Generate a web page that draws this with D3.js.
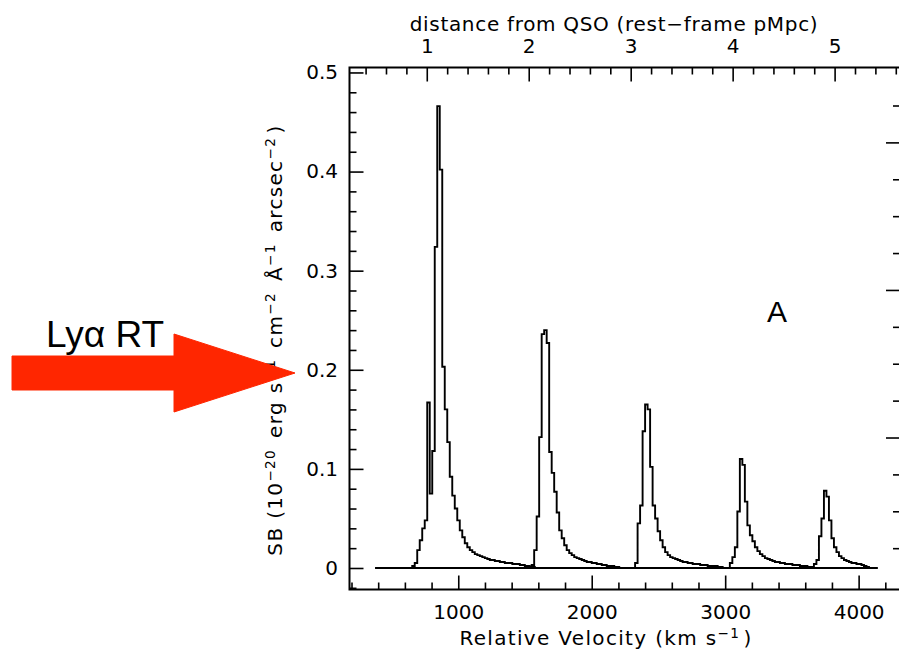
<!DOCTYPE html>
<html>
<head>
<meta charset="utf-8">
<script src="https://cdn.jsdelivr.net/npm/d3@7/dist/d3.min.js"></script>
<style>
  html, body { margin: 0; padding: 0; background: #ffffff; }
  svg { display: block; }
</style>
</head>
<body>
<script>
// ---------------- DATA ----------------
const binWidth = 18.75;                 // km/s per spectral bin
const baselineRange = [380, 4140];      // velocity range covered by each spectrum
const peakStarts = [655, 1550, 2325, 3035, 3665];

const peak1 = [0.002, 0.005, 0.018, 0.028, 0.040, 0.048, 0.167, 0.075, 0.118, 0.324,
               0.466, 0.402, 0.203, 0.160, 0.127, 0.092, 0.073, 0.060, 0.048, 0.038,
               0.031, 0.025, 0.021, 0.018, 0.016, 0.014, 0.013, 0.012, 0.011, 0.010,
               0.009, 0.008, 0.008, 0.007, 0.007, 0.006, 0.006, 0.005, 0.005, 0.005,
               0.004, 0.004, 0.004, 0.003, 0.003, 0.002, 0.002, 0.001, 0.001];
const peak2 = [0.003, 0.018, 0.052, 0.132, 0.236, 0.240, 0.227, 0.117, 0.096, 0.077,
               0.056, 0.038, 0.030, 0.023, 0.018, 0.015, 0.013, 0.011, 0.010, 0.009,
               0.008, 0.007, 0.006, 0.006, 0.005, 0.005, 0.004, 0.004, 0.003, 0.003,
               0.002, 0.002, 0.002, 0.001, 0.001];
const peak3 = [0.005, 0.045, 0.063, 0.138, 0.165, 0.160, 0.102, 0.063, 0.050, 0.037,
               0.028, 0.021, 0.016, 0.013, 0.011, 0.010, 0.009, 0.008, 0.007, 0.006,
               0.006, 0.005, 0.005, 0.004, 0.004, 0.004, 0.003, 0.003, 0.003, 0.002,
               0.002, 0.002, 0.002, 0.001, 0.001];
const peak4 = [0.005, 0.011, 0.021, 0.057, 0.110, 0.104, 0.067, 0.043, 0.033, 0.027,
               0.021, 0.017, 0.014, 0.012, 0.010, 0.009, 0.008, 0.007, 0.006, 0.006,
               0.005, 0.005, 0.004, 0.004, 0.004, 0.003, 0.003, 0.003, 0.002, 0.002,
               0.002, 0.001, 0.001];
const peak5 = [0.004, 0.008, 0.032, 0.050, 0.078, 0.072, 0.048, 0.030, 0.021, 0.016,
               0.012, 0.010, 0.008, 0.007, 0.006, 0.005, 0.005, 0.004, 0.004, 0.003,
               0.002, 0.001];
const peaks = [peak1, peak2, peak3, peak4, peak5];

const velocityTicks = [1000, 2000, 3000, 4000];
const sbTicks = [0, 0.1, 0.2, 0.3, 0.4, 0.5];
const sbTickLabels = ["0", "0.1", "0.2", "0.3", "0.4", "0.5"];
const distanceTicks = [1, 2, 3, 4, 5];
const rightMajorTicks = [3, 7, 11];
const kmsPerMpc = 764;                  // velocity -> distance conversion of top axis

// ---------------- LAYOUT ----------------
const W = 899, H = 651;
const L = 349.5, R = 900, T = 67.5, B = 589.5;
const FONT = "'DejaVu Sans', sans-serif";

const svg = d3.select("body").append("svg").attr("width", W).attr("height", H);

const x = d3.scaleLinear().domain([185, 4310]).range([L, R]);
const xTop = d3.scaleLinear().domain([185 / kmsPerMpc, 4310 / kmsPerMpc]).range([L, R]);
const y = d3.scaleLinear().domain([-0.0217, 0.505]).range([B, T]);
const yRight = d3.scaleLinear().domain([-1.12, 13.03]).range([B, T]);

function styleAxis(g) {
  g.select(".domain").remove();
  g.selectAll(".tick line").attr("stroke", "#000").attr("stroke-width", 1.6);
  g.selectAll(".tick text").attr("fill", "#000").style("font-family", FONT).style("font-size", "20px");
}

// bottom axis
const vMinor = d3.range(200, 4301, 200).filter(v => !velocityTicks.includes(v));
svg.append("g").attr("transform", `translate(0,${B})`)
  .call(d3.axisBottom(x).tickValues(velocityTicks).tickSizeInner(-14).tickSizeOuter(0)
        .tickPadding(15).tickFormat(d3.format("d")))
  .call(styleAxis);
svg.append("g").attr("transform", `translate(0,${B})`)
  .call(d3.axisBottom(x).tickValues(vMinor).tickSizeInner(-7).tickSizeOuter(0).tickFormat(""))
  .call(styleAxis);

// top axis (distance)
const dMinor = d3.range(0.4, 5.61, 0.2).map(d => +d.toFixed(1)).filter(d => !distanceTicks.includes(d));
svg.append("g").attr("transform", `translate(0,${T})`)
  .call(d3.axisTop(xTop).tickValues(distanceTicks).tickSizeInner(-14).tickSizeOuter(0)
        .tickPadding(14.5).tickFormat(d3.format("d")))
  .call(styleAxis);
svg.append("g").attr("transform", `translate(0,${T})`)
  .call(d3.axisTop(xTop).tickValues(dMinor).tickSizeInner(-7).tickSizeOuter(0).tickFormat(""))
  .call(styleAxis);

// left axis
const sbMinor = d3.range(-0.02, 0.501, 0.02).map(d => +d.toFixed(2)).filter(d => !sbTicks.includes(d));
svg.append("g").attr("transform", `translate(${L},0)`)
  .call(d3.axisLeft(y).tickValues(sbTicks).tickSizeInner(-14).tickSizeOuter(0)
        .tickPadding(11.5).tickFormat((d, i) => sbTickLabels[i]))
  .call(styleAxis);
svg.append("g").attr("transform", `translate(${L},0)`)
  .call(d3.axisLeft(y).tickValues(sbMinor).tickSizeInner(-7).tickSizeOuter(0).tickFormat(""))
  .call(styleAxis);

// right axis (unlabelled)
const rAll = d3.range(0, 13);
svg.append("g").attr("transform", `translate(${R},0)`)
  .call(d3.axisRight(yRight).tickValues(rightMajorTicks).tickSizeInner(-14).tickSizeOuter(0).tickFormat(""))
  .call(styleAxis);
svg.append("g").attr("transform", `translate(${R},0)`)
  .call(d3.axisRight(yRight).tickValues(rAll.filter(d => !rightMajorTicks.includes(d)))
        .tickSizeInner(-7).tickSizeOuter(0).tickFormat(""))
  .call(styleAxis);

// frame
svg.append("rect").attr("x", L).attr("y", T).attr("width", R - L).attr("height", B - T)
  .attr("fill", "none").attr("stroke", "#000").attr("stroke-width", 2);

// spectra
const line = d3.line().x(d => x(d[0])).y(d => y(d[1])).curve(d3.curveStepAfter);
peaks.forEach((vals, k) => {
  const s = peakStarts[k];
  const pts = [[baselineRange[0], 0]];
  vals.forEach((v, i) => pts.push([s + i * binWidth, v]));
  pts.push([s + vals.length * binWidth, 0]);
  pts.push([baselineRange[1], 0]);
  svg.append("path").attr("d", line(pts)).attr("fill", "none")
    .attr("stroke", "#000").attr("stroke-width", 1.9).attr("stroke-linejoin", "miter");
});

// ---------------- TEXT ----------------
function fitWidth(sel, target) {
  const node = sel.node();
  const len = node.getComputedTextLength();
  const n = node.textContent.length;
  if (n > 1) sel.attr("letter-spacing", ((target - len) / (n - 1)).toFixed(2));
}
function addRich(textSel, parts) {
  parts.forEach(p => {
    if (p.sup) {
      textSel.append("tspan").attr("font-size", "0.68em").attr("dy", "-0.55em").text(p.sup);
      textSel.append("tspan").attr("dy", "0.374em").text("\u200A");
    } else {
      textSel.append("tspan").text(p.t);
    }
  });
}

const topTitle = svg.append("text").attr("x", 614).attr("y", 31).attr("text-anchor", "middle")
  .style("font-family", FONT).style("font-size", "20px").attr("fill", "#000")
  .text("distance from QSO (rest\u2212frame pMpc)");
fitWidth(topTitle, 408);

const botTitle = svg.append("text").attr("x", 606).attr("y", 645).attr("text-anchor", "middle")
  .style("font-family", FONT).style("font-size", "20px").attr("fill", "#000");
addRich(botTitle, [{t: "Relative Velocity (km s"}, {sup: "\u22121"}, {t: ")"}]);
fitWidth(botTitle, 292);

const yTitle = svg.append("text").attr("transform", "translate(282,340) rotate(-90)")
  .attr("text-anchor", "middle")
  .style("font-family", FONT).style("font-size", "20px").attr("fill", "#000");
addRich(yTitle, [{t: "SB (10"}, {sup: "\u221220"}, {t: " erg s"}, {sup: "\u22121"},
                 {t: " cm"}, {sup: "\u22122"}, {t: " \u00C5"}, {sup: "\u22121"},
                 {t: " arcsec"}, {sup: "\u22122"}, {t: ")"}]);
fitWidth(yTitle, 430);

// panel letter
svg.append("text").attr("x", 767).attr("y", 322)
  .style("font-family", "'Liberation Sans', Arial, sans-serif").style("font-size", "30px")
  .attr("fill", "#000").text("A");

// annotation arrow
const arrowPts = [[12, 356], [174, 356], [174, 334], [295, 373], [174, 412], [174, 390], [12, 390]];
svg.append("path").attr("d", d3.line()(arrowPts) + "Z")
  .attr("fill", "#ff2600").attr("stroke", "#ff2600").attr("stroke-width", 1).attr("stroke-linejoin", "round");
svg.append("text").attr("x", 46).attr("y", 347)
  .style("font-family", "'Liberation Sans', Arial, sans-serif").style("font-size", "37px")
  .attr("fill", "#000").text("Ly\u03B1 RT");
</script>
</body>
</html>
